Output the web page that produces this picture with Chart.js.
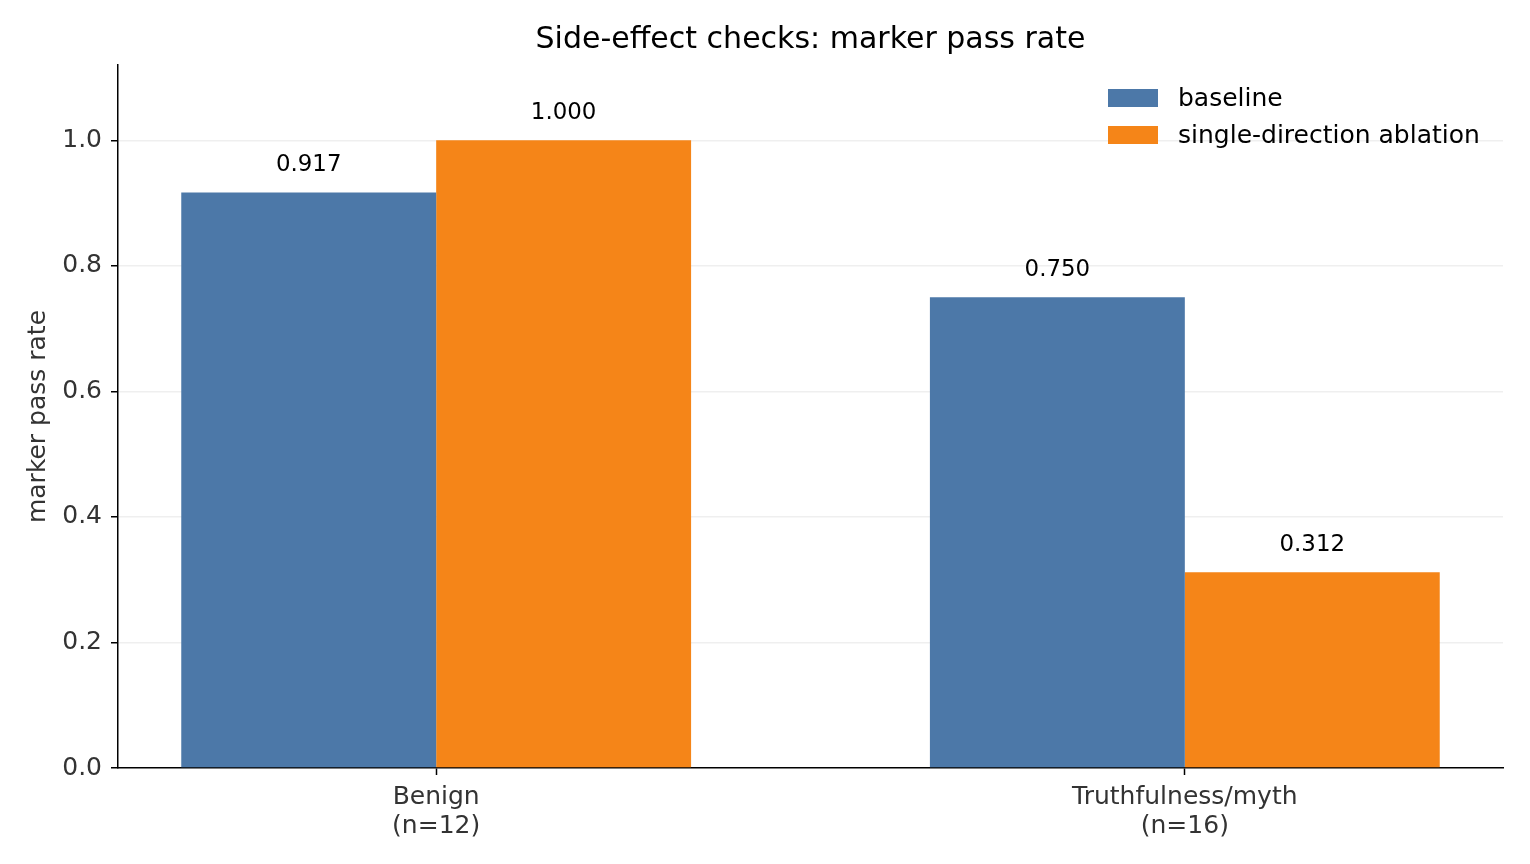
<!DOCTYPE html>
<html>
<head>
<meta charset="utf-8">
<script src="https://cdn.jsdelivr.net/npm/chart.js@4.4.1/dist/chart.umd.min.js"></script>
<style>
  html, body { margin: 0; padding: 0; background: #ffffff; }
  #wrap { width: 1530px; height: 864px; }
</style>
</head>
<body>
<div id="wrap"><canvas id="sidefx" width="1530" height="864"></canvas></div>
<script>
// data
const categories = [['Benign', '(n=12)'], ['Truthfulness/myth', '(n=16)']];
const seriesNames = ['baseline', 'single-direction ablation'];
const baseline = [0.917, 0.750];
const ablation = [1.000, 0.312];
const yTicks = [0.0, 0.2, 0.4, 0.6, 0.8, 1.0];
const chartTitle = 'Side-effect checks: marker pass rate';

const BLUE = '#4c78a8';
const ORANGE = '#f58518';
const FONT = 'DejaVu Sans';

Chart.defaults.font.family = FONT;
Chart.defaults.color = '#333333';

// value labels above each bar
const barLabels = {
  id: 'barLabels',
  afterDatasetsDraw(chart) {
    const ctx = chart.ctx;
    ctx.save();
    ctx.font = '22.9px "' + FONT + '"';
    ctx.fillStyle = '#000000';
    ctx.textAlign = 'center';
    ctx.textBaseline = 'bottom';
    chart.data.datasets.forEach((ds, di) => {
      chart.getDatasetMeta(di).data.forEach((bar, i) => {
        ctx.fillText(ds.data[i].y.toFixed(3), bar.x, bar.y - 16);
      });
    });
    ctx.restore();
  }
};

// title centred over the plot area, and a matplotlib-like legend
const decorations = {
  id: 'decorations',
  afterDraw(chart) {
    const ctx = chart.ctx;
    const area = chart.chartArea;
    ctx.save();
    ctx.font = '30px "' + FONT + '"';
    ctx.fillStyle = '#000000';
    ctx.textAlign = 'center';
    ctx.textBaseline = 'middle';
    ctx.fillText(chartTitle, (area.left + area.right) / 2, 40);

    const x0 = area.right - 395;
    ctx.font = '25px "' + FONT + '"';
    ctx.textAlign = 'left';
    chart.data.datasets.forEach((ds, i) => {
      const cy = area.top + 33 + i * 37;
      ctx.fillStyle = ds.backgroundColor;
      ctx.fillRect(x0, cy - 9, 50, 18);
      ctx.fillStyle = '#000000';
      ctx.fillText(ds.label, x0 + 70, cy + 1);
    });
    ctx.restore();
  }
};

new Chart(document.getElementById('sidefx'), {
  type: 'bar',
  data: {
    datasets: [
      {
        label: seriesNames[0],
        data: baseline.map((v, i) => ({ x: i, y: v })),
        backgroundColor: BLUE
      },
      {
        label: seriesNames[1],
        data: ablation.map((v, i) => ({ x: i, y: v })),
        backgroundColor: ORANGE
      }
    ]
  },
  options: {
    responsive: false,
    animation: false,
    devicePixelRatio: 1,
    categoryPercentage: 0.681,
    barPercentage: 1.0,
    borderWidth: 0,
    layout: { padding: { left: 0, right: 27, top: 65, bottom: 0 } },
    plugins: {
      legend: { display: false },
      tooltip: { enabled: false },
      title: { display: false }
    },
    scales: {
      x: {
        type: 'linear',
        min: -0.425,
        max: 1.425,
        offset: false,
        afterBuildTicks(scale) {
          scale.ticks = categories.map((c, i) => ({ value: i }));
        },
        afterFit(scale) { scale.height = 96; },
        ticks: {
          color: '#333333',
          font: { size: 25, lineHeight: 1.15 },
          padding: 8,
          maxRotation: 0,
          autoSkip: false,
          callback: (v) => categories[v]
        },
        grid: {
          offset: false,
          drawOnChartArea: false,
          drawTicks: true,
          tickLength: 7,
          tickColor: '#000000',
          tickWidth: 1.5
        },
        border: { display: true, color: '#000000', width: 1.5 }
      },
      y: {
        min: 0,
        max: 1.12,
        z: 1,
        afterBuildTicks(scale) {
          scale.ticks = yTicks.map(v => ({ value: v }));
        },
        afterFit(scale) { scale.width = 118; },
        ticks: {
          color: '#333333',
          font: { size: 25 },
          padding: 9,
          callback: (v) => v.toFixed(1)
        },
        grid: {
          color: (c) => (c.tick && c.tick.value === 0 ? 'rgba(0,0,0,0)' : 'rgba(190,190,190,0.25)'),
          lineWidth: 1.5,
          tickLength: 7,
          tickColor: '#000000',
          tickWidth: 1.5
        },
        border: { display: true, color: '#000000', width: 1.5 },
        title: {
          display: true,
          text: 'marker pass rate',
          color: '#333333',
          font: { size: 25 },
          padding: { top: 23, bottom: 0 }
        }
      }
    }
  },
  plugins: [barLabels, decorations]
});
</script>
</body>
</html>
